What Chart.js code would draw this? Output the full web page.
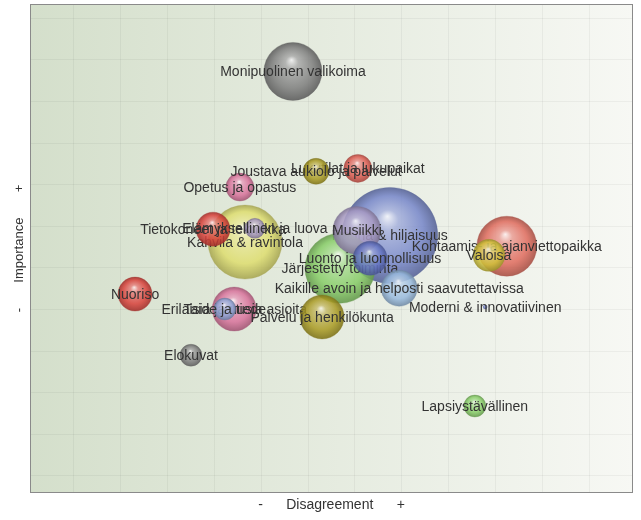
<!DOCTYPE html>
<html><head><meta charset="utf-8">
<script src="https://cdn.jsdelivr.net/npm/chart.js@4/dist/chart.umd.min.js"></script>
<style>html,body{margin:0;padding:0;background:#fff}#wrap{width:641px;height:520px}</style>
</head><body><div id="wrap"><canvas id="c" width="641" height="520"></canvas></div>
<script>
// Data (drawn largest first, as in the reference)
const names = ["Rauha & hiljaisuus","Kahvila & ravintola","Järjestetty toiminta","Kohtaamis- ja ajanviettopaikka","Monipuolinen valikoima","Musiikki","Erilaisia ja uusia asioita","Palvelu ja henkilökunta","Kaikille avoin ja helposti saavutettavissa","Nuoriso","Tietokoneet ja tekniikka","Luonto ja luonnollisuus","Valoisa","Opetus ja opastus","Lukutilat ja lukupaikat","Joustava aukiolo ja palvelut","Elokuvat","Taide ja tiede","Lapsiystävällinen","Elämyksellinen ja luova","Moderni & innovatiivinen"];
const disagreement = [6.74,3.66,5.68,9.23,4.68,6.04,3.43,5.30,6.94,1.32,2.98,6.32,8.85,3.55,6.06,5.17,2.51,3.23,8.55,3.87,8.77];
const importance   = [5.78,5.62,4.99,5.52,9.72,5.90,4.01,3.82,4.51,4.37,5.93,5.23,5.30,6.94,7.39,7.32,2.90,4.01,1.68,5.95,4.06];
const sizes        = [48,37,35,30,29,24,22,22,18,17,17,17,16,14,14,13,11,11,11,10,2];
const colors = ["#7585c9","#dedd6e","#86cc66","#df6a5c","#7d7d7d","#a698c2","#d8719b","#a99a22","#97b9dd","#d8403a","#d8403a","#6373c2","#d1c33a","#d8719b","#dc5a50","#a99a22","#7d7d7d","#8da5d6","#86cc66","#a698c2","#6373c2"];
const xTicks = [0,1,2,3,4,5,6,7,8,9,10,11];
const yTicks = [0,1,2,3,4,5,6,7,8,9,10,11];
const xTitle = "-      Disagreement      +";
const yTitle = "-       Importance       +";

function shade(hex, f){
  const n=parseInt(hex.slice(1),16);let r=n>>16,g=(n>>8)&255,b=n&255;
  if(f>=0){r=r+(255-r)*f;g=g+(255-g)*f;b=b+(255-b)*f;}else{r=r*(1+f);g=g*(1+f);b=b*(1+f);}
  return [Math.round(r),Math.round(g),Math.round(b)];
}
function rgba(a,al){return `rgba(${a[0]},${a[1]},${a[2]},${al})`;}

function sphere(ctx, base){
  const chart=ctx.chart;
  if(!chart.chartArea || !ctx.raw) return base;
  const cx=chart.scales.x.getPixelForValue(ctx.raw.x);
  const cy=chart.scales.y.getPixelForValue(ctx.raw.y);
  const r=Math.max(ctx.raw.r,1);
  const g=chart.ctx.createRadialGradient(cx-r*0.05,cy-r*0.4,0,cx,cy,r);
  g.addColorStop(0,rgba(shade(base,0.9),0.92));
  g.addColorStop(0.22,rgba(shade(base,0.35),0.85));
  g.addColorStop(0.7,rgba(shade(base,0),0.85));
  g.addColorStop(1,rgba(shade(base,-0.25),0.9));
  return g;
}

const datasets = names.map((n,i)=>({
  label:n,
  order:-i,
  data:[{x:disagreement[i],y:importance[i],r:sizes[i]}],
  backgroundColor:(ctx)=>sphere(ctx,colors[i]),
  borderColor:rgba(shade(colors[i],-0.25),0.5),
  borderWidth:0.6
}));

const bgPlugin={
  id:'bg',
  beforeDraw(chart){
    const {ctx,chartArea:a}=chart;
    const g=ctx.createLinearGradient(a.left,0,a.right,0);
    g.addColorStop(0,'#d4dfcb');
    g.addColorStop(1,'#f7f8f4');
    ctx.save();ctx.fillStyle=g;ctx.fillRect(a.left,a.top,a.right-a.left,a.bottom-a.top);ctx.restore();
  },
  afterDatasetDraw(chart,args){
    const i=args.index;const el=chart.getDatasetMeta(i).data[0];if(!el)return;
    const ctx=chart.ctx;ctx.save();
    ctx.font='14px "Liberation Sans", Arial, sans-serif';
    ctx.fillStyle='#333';ctx.textAlign='center';ctx.textBaseline='middle';
    ctx.fillText(names[i],el.x,el.y+1);ctx.restore();
  },
  afterDraw(chart){
    const {ctx,chartArea:a}=chart;ctx.save();ctx.strokeStyle='#8a8a8a';ctx.lineWidth=1;
    ctx.strokeRect(Math.round(a.left)+0.5,Math.round(a.top)+0.5,Math.round(a.right-a.left)-1,Math.round(a.bottom-a.top)-1);ctx.restore();
  }
};

new Chart(document.getElementById('c'),{
  type:'bubble',
  data:{datasets},
  plugins:[bgPlugin],
  options:{
    responsive:false,animation:false,events:[],
    layout:{autoPadding:false,padding:{top:4,right:8,bottom:0,left:0}},
    plugins:{legend:{display:false},tooltip:{enabled:false}},
    scales:{
      x:{type:'linear',min:-0.915,max:11.915,
        afterBuildTicks:s=>{s.ticks=xTicks.map(v=>({value:v}));},
        ticks:{display:false},
        grid:{color:'rgba(0,0,0,0.045)',drawTicks:false},
        border:{display:false},
        title:{display:true,text:xTitle,color:'#333',font:{family:'"Liberation Sans", Arial, sans-serif',size:14},padding:{top:3.6,bottom:6.6}}
      },
      y:{type:'linear',min:-0.41,max:11.34,
        afterBuildTicks:s=>{s.ticks=yTicks.map(v=>({value:v}));},
        ticks:{display:false},
        grid:{color:'rgba(0,0,0,0.045)',drawTicks:false},
        border:{display:false},
        title:{display:true,text:yTitle,color:'#333',font:{family:'"Liberation Sans", Arial, sans-serif',size:13},padding:{top:11.2,bottom:3.2}}
      }
    }
  }
});
</script></body></html>
